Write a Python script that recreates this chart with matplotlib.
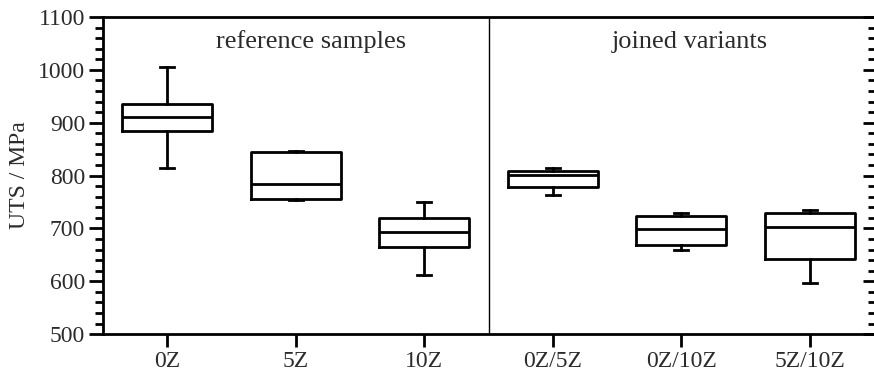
import matplotlib.pyplot as plt
from matplotlib.ticker import MultipleLocator

plt.rcParams['font.family'] = ['Liberation Serif', 'DejaVu Serif']
plt.rcParams['text.color'] = '#2b2b2b'
plt.rcParams['xtick.labelcolor'] = '#2b2b2b'
plt.rcParams['ytick.labelcolor'] = '#2b2b2b'
plt.rcParams['axes.labelcolor'] = '#2b2b2b'

labels = ["0Z", "5Z", "10Z", "0Z/5Z", "0Z/10Z", "5Z/10Z"]
whislo = [814, 753, 611, 763, 659, 596]
q1 = [884, 755, 664, 778, 668, 642]
med = [911, 785, 693, 801, 698, 702]
q3 = [935, 844, 719, 808, 723, 729]
whishi = [1005, 846, 750, 814, 729, 734]

stats = []
for i in range(len(labels)):
    stats.append(dict(label=labels[i], whislo=whislo[i], q1=q1[i], med=med[i],
                      q3=q3[i], whishi=whishi[i], fliers=[]))

fig = plt.figure(figsize=(8.74, 3.78), dpi=100)
ax = fig.add_axes([0.118, 0.116, 0.882, 0.839])

lw = 2.0
ax.bxp(stats, positions=range(1, 7), widths=0.7, capwidths=0.11,
       showfliers=False,
       boxprops=dict(color="black", linewidth=lw),
       medianprops=dict(color="black", linewidth=lw),
       whiskerprops=dict(color="black", linewidth=lw),
       capprops=dict(color="black", linewidth=lw))

ax.axvline(3.5, color="black", linewidth=1.0)

ax.set_xlim(0.5, 6.5)
ax.set_ylim(500, 1100)
ax.yaxis.set_major_locator(MultipleLocator(100))
ax.yaxis.set_minor_locator(MultipleLocator(20))

for s in ax.spines.values():
    s.set_linewidth(2.0)
ax.spines["right"].set_visible(False)

ax.tick_params(axis="y", which="major", direction="out", length=10, width=2,
               labelsize=17, right=True, pad=3)
ax.tick_params(axis="y", which="minor", direction="out", length=6, width=2,
               right=True)
ax.tick_params(axis="x", which="major", direction="out", length=9, width=2,
               labelsize=17, pad=3)
# right-side ticks point inward
for t in ax.yaxis.get_major_ticks():
    t.tick2line.set_marker(0)
    t.tick2line.set_markersize(8)
for t in ax.yaxis.get_minor_ticks():
    t.tick2line.set_marker(0)
    t.tick2line.set_markersize(4)
ax.set_ylabel("UTS / MPa", fontsize=17, labelpad=6)

ax.text(2.12, 1053, "reference samples", ha="center", va="center", fontsize=19)
ax.text(5.07, 1053, "joined variants", ha="center", va="center", fontsize=19)

fig.savefig("out.png", dpi=100)
